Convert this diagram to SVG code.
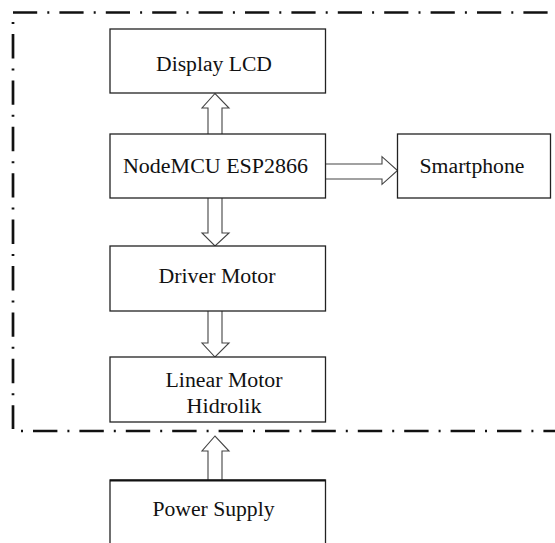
<svg xmlns="http://www.w3.org/2000/svg" width="555" height="543" viewBox="0 0 555 543">
<style>
.box{fill:#fff;stroke:#222;stroke-width:1.3}
.t{font-family:"Liberation Serif","Times New Roman",serif;font-size:20px;fill:#111;text-anchor:middle}
.arr{fill:#fff;stroke:#444;stroke-width:1.1;stroke-linejoin:miter}
.dd{fill:none;stroke:#111;stroke-width:2.7}
</style>
<rect width="555" height="543" fill="#fff"/>
<g id="boundary">
<line class="dd" x1="13" y1="12.5" x2="560" y2="12.5" stroke-dasharray="24.2 10.1 2 10.1"/>
<line class="dd" x1="13" y1="22" x2="13" y2="429" stroke-dasharray="2 10 24.4 10"/>
<line class="dd" x1="21" y1="431" x2="560" y2="431" stroke-dasharray="2 10 24.4 10"/>
</g>
<g id="connectors">
<path class="arr" d="M208,134 V108 H202 L215,93.5 L229,108 H222 V134"/>
<path class="arr" d="M326,164 H382 V156.7 L397.5,170.5 L382,184.3 V179 H326"/>
<path class="arr" d="M208,198 V233 H202 L215,246 L229,233 H222 V198"/>
<path class="arr" d="M208,311 V343 H202 L215,357 L229,343 H222 V311"/>
<path class="arr" d="M208,480 V451 H202 L215,436 L229,451 H222 V480"/>
</g>
<g id="display-lcd">
<rect class="box" x="110" y="29" width="215.5" height="64"/>
<text class="t" x="214" y="71" textLength="116" lengthAdjust="spacingAndGlyphs">Display LCD</text>
</g>
<g id="nodemcu">
<rect class="box" x="110" y="134" width="215.5" height="64"/>
<text class="t" x="215.5" y="173" textLength="185" lengthAdjust="spacingAndGlyphs">NodeMCU ESP2866</text>
</g>
<g id="smartphone">
<rect class="box" x="397.5" y="134" width="153" height="64"/>
<text class="t" x="472" y="173" textLength="105" lengthAdjust="spacingAndGlyphs">Smartphone</text>
</g>
<g id="driver-motor">
<rect class="box" x="110" y="246" width="215.5" height="65"/>
<text class="t" x="217" y="283" textLength="117" lengthAdjust="spacingAndGlyphs">Driver Motor</text>
</g>
<g id="linear-motor">
<rect class="box" x="110" y="357" width="215.5" height="65"/>
<text class="t" x="224" y="387" textLength="117" lengthAdjust="spacingAndGlyphs">Linear Motor</text>
<text class="t" x="224" y="413" textLength="75" lengthAdjust="spacingAndGlyphs">Hidrolik</text>
</g>
<g id="power-supply">
<rect class="box" x="110" y="480" width="215.5" height="80"/>
<line x1="110" y1="480.5" x2="325.5" y2="480.5" stroke="#111" stroke-width="2"/>
<text class="t" x="213.5" y="516" textLength="122" lengthAdjust="spacingAndGlyphs">Power Supply</text>
</g>
</svg>
